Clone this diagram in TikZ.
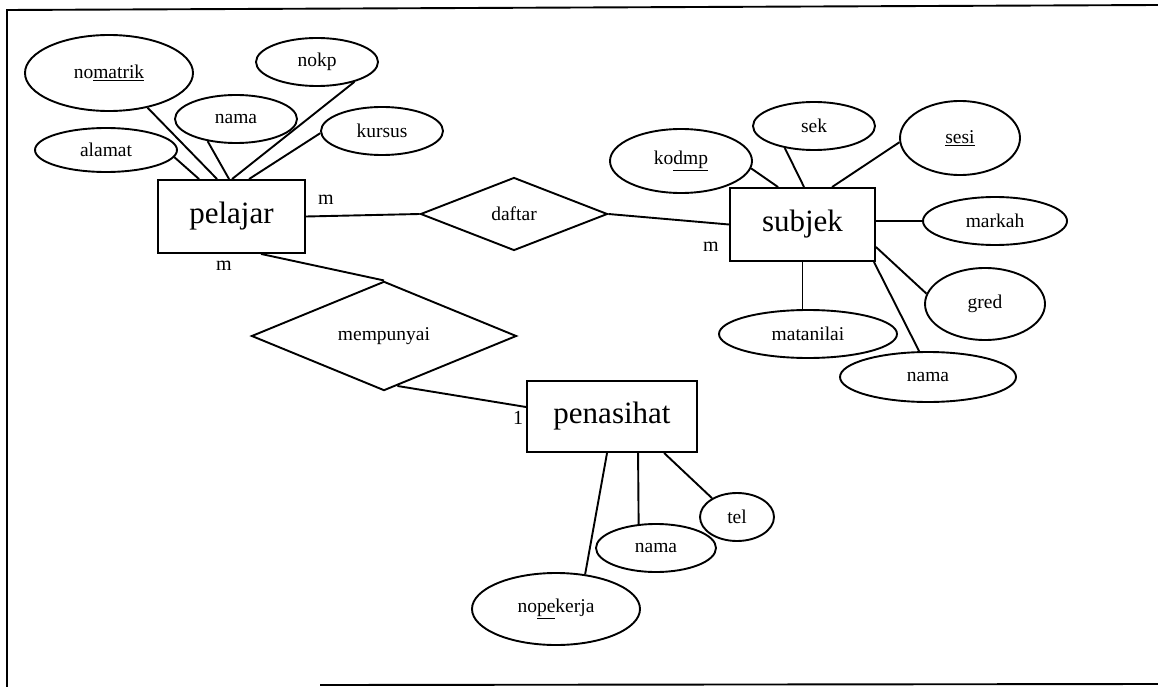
\documentclass[tikz,border=0pt]{standalone}
\usepackage{fontspec}
\setmainfont{Liberation Serif}
\usetikzlibrary{shapes.geometric}
\begin{document}
\begin{tikzpicture}[x=1pt,y=-1pt, line width=1.9pt,
  attr/.style={ellipse, draw, inner sep=0pt, font=\fontsize{19.5}{19.5}\selectfont},
  ent/.style={rectangle, draw, inner sep=0pt, font=\fontsize{31}{31}\selectfont},
  rel/.style={diamond, draw, inner sep=0pt, font=\fontsize{19.5}{19.5}\selectfont},
  card/.style={inner sep=0pt, font=\fontsize{20}{20}\selectfont},
  conn/.style={line width=1.9pt},
  frame/.style={line width=1.9pt}]
\useasboundingbox (0,0) rectangle (1158,687);

% frame
\coordinate (f1) at (7,687);
\coordinate (f2) at (7,10);
\coordinate (f3) at (1158,5);
\coordinate (f4) at (320,685);
\coordinate (f5) at (1158,684);
\draw[frame] (f1) -- (f2) -- (f3);
\draw[frame] (f4) -- (f5);

% entities
\node[ent, minimum width=147pt, minimum height=73pt] (pelajar) at (231.5,216.5) {pelajar};
\node[ent, minimum width=145pt, minimum height=73pt] (subjek) at (802.5,224.5) {subjek};
\node[ent, minimum width=170pt, minimum height=71pt] (penasihat) at (612,416.5) {penasihat};

% relationships
\node[rel, minimum width=187pt, minimum height=73pt] (daftar) at (514,214) {daftar};
\node[rel, minimum width=265pt, minimum height=72pt] (mempunyai) at (384,336) {mempunyai};

% pelajar attributes
\node[attr, minimum width=168pt, minimum height=76pt] (nomatrik) at (109,73) {no\underline{matrik}};
\node[attr, minimum width=122pt, minimum height=48pt] (nama1) at (236,119) {nama};
\node[attr, minimum width=122pt, minimum height=48pt] (nokp) at (317,62) {nokp};
\node[attr, minimum width=122pt, minimum height=48pt] (kursus) at (382,131) {kursus};
\node[attr, minimum width=142pt, minimum height=44pt] (alamat) at (106,150) {alamat};

% subjek attributes
\node[attr, minimum width=142pt, minimum height=64pt] (kodmp) at (681,161) {ko\underline{dmp}};
\node[attr, minimum width=122pt, minimum height=48pt] (sek) at (814,126) {sek};
\node[attr, minimum width=120pt, minimum height=74pt] (sesi) at (960,138) {\underline{sesi}};
\node[attr, minimum width=144pt, minimum height=48pt] (markah) at (995,221) {markah};
\node[attr, minimum width=120pt, minimum height=72pt] (gred) at (985,304) {gred};
\node[attr, minimum width=178pt, minimum height=48pt] (matanilai) at (808,334) {matanilai};
\node[attr, minimum width=176pt, minimum height=50pt] (nama2) at (928,377) {nama};

% penasihat attributes
\node[attr, minimum width=74pt, minimum height=48pt] (tel) at (737,517) {tel};
\node[attr, minimum width=120pt, minimum height=48pt] (nama3) at (656,548) {nama};
\node[attr, minimum width=168pt, minimum height=72pt] (nopekerja) at (556,609) {no\underline{pe}kerja};

% cardinalities
\node[card] (c1) at (326,200) {m};
\node[card] (c2) at (224,266) {m};
\node[card] (c3) at (711,247) {m};
\node[card] (c4) at (518,418) {1};

% pelajar attribute links
\draw[conn] (nomatrik.-42) -- ([xshift=60pt]pelajar.north west);
\draw[conn] (alamat.-6) -- ([xshift=42pt]pelajar.north west);
\draw[conn] (nama1.-142) -- ([xshift=72pt]pelajar.north west);
\draw[conn] (nokp.-28) -- ([xshift=75pt]pelajar.north west);
\draw[conn] (kursus.-178) -- ([xshift=92pt]pelajar.north west);

% relationship links
\draw[conn] (pelajar.east) -- (daftar.west);
\draw[conn] (daftar.east) -- (subjek.west);
\draw[conn] ([xshift=104pt]pelajar.south west) -- (mempunyai.north);
\draw[conn] (mempunyai.-75) -- ([yshift=9.5pt]penasihat.west);

% subjek attribute links
\draw[conn] (kodmp.-6) -- ([xshift=49pt]subjek.north west);
\draw[conn] (sek.-143) -- ([xshift=75pt]subjek.north west);
\draw[conn] (sesi.-176) -- ([xshift=103pt]subjek.north west);
\draw[conn] (subjek.east |- markah.west) -- (markah.west);
\draw[conn] (gred.170) -- ([yshift=-22.5pt]subjek.east);
\draw[conn] (subjek.south) -- (subjek.south |- matanilai.north);
\draw[conn] (nama2.109) -- ([xshift=-2pt]subjek.south east);

% penasihat attribute links
\draw[conn] (nopekerja.50) -- ([xshift=81pt]penasihat.south west);
\draw[conn] (nama3.126) -- ([xshift=112pt]penasihat.south west);
\draw[conn] (tel.143) -- ([xshift=138pt]penasihat.south west);
\end{tikzpicture}
\end{document}
